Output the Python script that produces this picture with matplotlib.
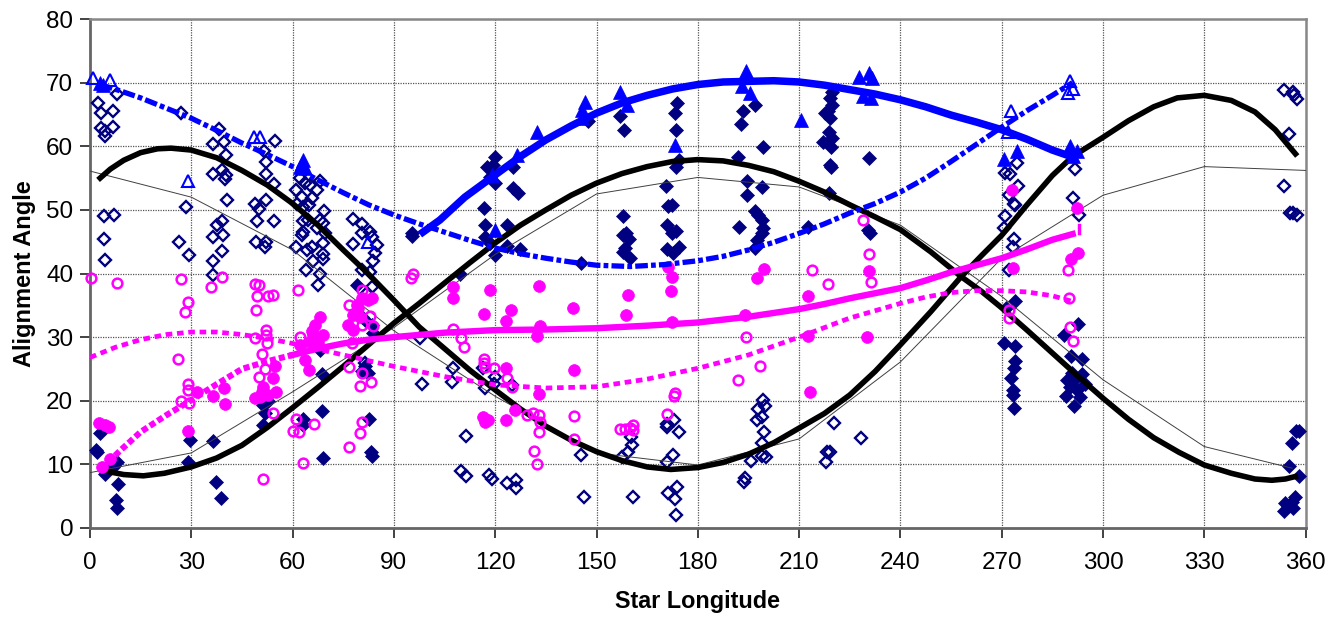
#!/usr/bin/env python
# coding: utf-8
import matplotlib
matplotlib.use('Agg')
import matplotlib.pyplot as plt
import numpy as np

plt.rcParams['font.family'] = ['Liberation Sans', 'DejaVu Sans']

# trend curves as (longitude, angle)
black_a = [(3, 55), (6, 56.4), (10, 57.8), (15, 59), (20, 59.6), (24, 59.7), (30, 59.4), (37.5, 58.2), (45, 56.2),
           (52.5, 53.9), (60, 51), (67.5, 47.6), (75, 43.7), (82.5, 39.9), (90, 35.8), (97.5, 31.6), (105, 28.2),
           (112.5, 24.8), (120, 21.7), (127.5, 18.7), (135, 16), (142.5, 13.8), (150, 12), (157.5, 10.6), (165, 9.6),
           (172, 9.2), (180, 9.5), (187.5, 10.3), (195, 11.6), (202.5, 13.4), (210, 15.7), (217.5, 18), (225, 20.9),
           (232.5, 24.6), (240, 28.8), (249, 34), (258, 39.5), (264, 42.8), (270, 46), (277.5, 50.8), (285, 55.4),
           (291, 58.4), (300, 61.4), (307.5, 64), (315, 66.2), (322, 67.6), (330, 68), (338, 67.2), (345, 65.4),
           (351, 62.6), (357, 58.8)]
black_b = [(4.4, 9), (7, 8.7), (10, 8.4), (15.8, 8.2), (22, 8.6), (30, 9.6), (37.5, 11), (45, 13), (52.5, 15.8), (60, 18.9),
           (67.5, 22.1), (75, 25.4), (82.5, 28.8), (90, 32.2), (97.5, 35.3), (105, 38.5), (112.5, 41.7), (120, 44.8),
           (127.5, 47.6), (135, 50), (142.5, 52.3), (150, 54.2), (157.5, 55.7), (165, 56.8), (172.5, 57.6), (180, 57.9),
           (187.5, 57.7), (195, 57), (202.5, 56), (210, 54.5), (217.5, 52.8), (225, 50.8), (232.5, 48.9), (240, 46.9),
           (249, 43.4), (258, 39.5), (264, 37.2), (270, 34.6), (277.5, 31.1), (285, 27.5), (292.5, 23.9), (300, 20.4),
           (307.5, 17.1), (315, 14.2), (322.5, 11.9), (330, 9.9), (338, 8.6), (345, 7.7), (350, 7.5), (354, 7.7), (357, 8.1)]
thin_a = [(0, 56.1), (30, 52), (60, 43.7), (90, 31), (120, 20.7), (150, 11.8), (180, 9.9), (210, 14), (240, 26.1),
          (270, 42.4), (300, 52.3), (330, 56.8), (360, 56.2)]
thin_b = [(0, 8.7), (30, 11.8), (60, 21.4), (90, 31.5), (120, 43), (150, 52.5), (180, 55.1), (210, 53.6), (240, 47.6),
          (270, 36.4), (300, 23.3), (330, 12.8), (356, 9.4)]
blue_solid = [(98.6, 46.5), (103.6, 48.4), (111, 52), (120, 55.5), (127.5, 58.4), (135, 61), (142.5, 63.2), (150, 65.2),
              (157.5, 66.8), (165, 68), (172.5, 69), (180, 69.7), (187.5, 70.1), (195, 70.2), (202.5, 70.3), (210, 70.1),
              (217.5, 69.6), (225, 68.9), (232.5, 68.2), (240, 67.3), (247.5, 66.2), (255, 64.9), (262.5, 63.8),
              (270, 62.6), (277.5, 61.1), (285, 59.4), (291, 58.3)]
blue_dash = [(3, 69.7), (9, 68.7), (15, 67.6), (22.5, 66), (30, 64.4), (37.5, 62.5), (45, 60.5), (52.5, 58.7), (60, 56.8),
             (67.5, 54.7), (75, 52.7), (82.5, 50.8), (90, 49.2), (97.5, 47.8), (105, 46.5), (112.5, 45.2), (120, 44),
             (127.5, 43.1), (135, 42.4), (142.5, 41.8), (150, 41.3), (160, 41.1), (170, 41.4), (180, 42), (187.5, 42.7),
             (195, 43.7), (202.5, 44.9), (210, 46.3), (217.5, 47.8), (225, 49.5), (232.5, 51), (240, 52.8), (247.5, 55),
             (255, 57.6), (262.5, 60.3), (270, 63), (277.5, 65.6), (285, 68), (291, 70)]
pink_left = [(3.5, 9.4), (9, 12.2), (15, 15.1), (22.5, 17.7), (30, 20.1), (37.5, 22.6), (45, 25), (52.5, 26.2), (60, 27.2)]
pink_solid = [(60, 27.2), (67.5, 28.2), (75, 29), (82.5, 29.6), (90, 30), (105, 30.7), (120, 31.1), (135, 31.2), (150, 31.4),
              (165, 31.8), (180, 32.3), (195, 33.2), (210, 34.4), (217.5, 35.2), (225, 36.1), (232.5, 36.9), (240, 37.7),
              (247.5, 38.9), (255, 40.2), (262.5, 41.3), (270, 42.4), (277.5, 43.8), (285, 45.3), (291, 46.2)]
pink_tail = [(293, 46.3), (293, 47.7)]
pink_dash = [(0, 26.8), (7.5, 28.4), (15, 29.6), (22.5, 30.4), (30, 30.8), (37.5, 30.8), (45, 30.4), (52.5, 29.8), (60, 29),
             (75, 27.2), (90, 25.4), (105, 23.8), (120, 22.5), (135, 22), (150, 22.2), (165, 23.4), (180, 25.1), (195, 27.2),
             (210, 30), (225, 33), (240, 35.3), (247.5, 36.3), (255, 37), (262.5, 37.3), (270, 37.3), (277.5, 37.1),
             (285, 36.5), (291, 35.6)]

# scatter points
open_diamonds = [(2.5, 66.8), (3.2, 65.3), (6.9, 65.6), (3.2, 62.8), (6.9, 63), (4.4, 62.4), (4.4, 61.6), (7.9, 68.2),
                 (4.1, 49), (7.1, 49.2), (4.2, 45.4), (4.4, 42.1), (26.9, 65.2), (28.4, 50.5), (26.5, 45), (29.3, 42.9),
                 (38.3, 62.7), (36.3, 60.4), (39.8, 60.6), (40.2, 58.6), (39, 56.3), (36.3, 55.7), (40.2, 55.5),
                 (40, 54.9), (40.7, 51.5), (37.5, 47.6), (39, 48.3), (36.5, 45.7), (39.5, 46), (39, 43.6), (36.5, 42),
                 (36.5, 39.7), (54.8, 60.8), (51.5, 59.3), (52, 57.5), (52, 55.6), (54.5, 54.1), (52, 51.5), (49, 51),
                 (50, 50.2), (49.4, 48.3), (54.5, 48.3), (49.2, 44.9), (52, 44.9), (51.8, 44.2), (61, 53.1), (62.2, 55),
                 (63.7, 54.2), (65.2, 53.9), (67.1, 53.1), (68.1, 54.5), (62.7, 52.1), (65.8, 51.8), (61.4, 51),
                 (63.2, 50.5), (65, 50.8), (69.4, 49.9), (64.7, 48.4), (68.1, 48.4), (69.1, 47.9), (63.2, 48.2),
                 (67.1, 47.1), (69.6, 46.3), (63.2, 46.6), (62.7, 46.1), (69.1, 44.8), (61, 44.1), (65.6, 44.2),
                 (64.4, 43.7), (69.1, 43.1), (69.1, 42.3), (65.9, 41.9), (63.9, 40.5), (68.1, 40), (67.6, 38.2),
                 (78, 48.6), (80.5, 47.8), (80.5, 46.4), (82.9, 46.6), (83.4, 45.8), (84.9, 44.5), (78, 44.7),
                 (84.4, 43.2), (83.7, 42), (80.5, 40.6), (82.9, 40.2), (83.4, 37.8), (81.9, 36.9), (81.4, 25.9),
                 (97.7, 29.8), (98.4, 22.6), (107.6, 25.2), (107.3, 23), (111.4, 14.4), (109.9, 9), (111.4, 8.1),
                 (116.5, 25.1), (116.9, 22), (120, 23.8), (119.5, 22.6), (118.2, 8.4), (119.1, 7.7), (123.4, 7.1),
                 (126.2, 7.5), (126.2, 6.3), (124.9, 22.5), (146.3, 4.8), (145.4, 11.5), (160.9, 4.8), (157.5, 11.2),
                 (159.2, 12), (160.4, 13), (160.1, 14.3), (170.8, 16.4), (171, 15.9), (173, 17), (174.5, 15.1),
                 (170.8, 10.4), (172.8, 11.4), (173.8, 6.5), (171.3, 5.5), (173.3, 4.6), (173.6, 2), (199.2, 20.1),
                 (199.9, 19.1), (197.9, 18.7), (198.9, 17.4), (197.4, 16.9), (199.7, 15.1), (198.9, 13.3), (195.8, 10.5),
                 (198.9, 11.3), (200.2, 11.2), (194, 7.9), (193.7, 7.3), (220.4, 16.5), (228.3, 14.2), (218.2, 11.9),
                 (219.2, 11.9), (217.9, 10.3), (353.6, 68.8), (356.4, 68.5), (356.7, 68), (357.4, 67.5), (355, 62),
                 (353.6, 53.8), (355.4, 49.5), (356.4, 49.5), (357.4, 49.2), (274.4, 57.3), (270.9, 55.8), (272.6, 55.7),
                 (274.9, 53.8), (272.3, 52.3), (273.7, 51), (274, 50.7), (271, 49), (270.7, 47.1), (273.6, 45.4),
                 (273.4, 44.2), (272.2, 40.6), (291.7, 56.4), (291, 51.9), (293, 49.2)]
filled_diamonds = [(2.9, 14.9), (1.9, 12.3), (2.2, 11.9), (7.9, 10.3), (6.9, 9.6), (4.4, 8.5), (8.4, 6.9), (7.7, 4.4),
                   (8.1, 3.2), (29.1, 10.4), (29.6, 13.8), (37.3, 7.2), (36.5, 13.7), (38.8, 4.7), (51.3, 19.3),
                   (51.8, 18), (51.3, 16.2), (52.8, 19.9), (63.2, 17.2), (63.2, 16.2), (68.6, 24.2), (68.6, 18.4),
                   (68.9, 11), (68.1, 28), (80.5, 24.6), (82.4, 24.4), (82.7, 17.1), (83.1, 12), (83.6, 11.3),
                   (81.4, 25.4), (79, 38.2), (83.4, 31.9), (80.5, 33.2), (81.4, 32.7), (83.9, 30.6), (95.3, 45.9),
                   (95.3, 46.3), (119.9, 58.3), (117.5, 56.8), (119.4, 57.1), (118.5, 55.2), (119.9, 54.2), (125.4, 56.8),
                   (125.2, 53.4), (126.9, 52.7), (116.7, 50.3), (116.9, 47.6), (123.4, 47.6), (116.9, 45.8), (118.5, 44.8),
                   (123.4, 44.3), (127.2, 43.9), (119.8, 42.9), (109.6, 39.9), (147.6, 63.9), (157, 64.8), (158.1, 62.6),
                   (157.7, 49.1), (145.4, 41.7), (157.9, 46.1), (158.6, 46.4), (159.6, 45.5), (157.7, 43.4), (158.4, 44),
                   (160, 42.4), (173.9, 66.8), (173.2, 65.2), (173.4, 62.6), (173.5, 56.8), (174.5, 57.8), (170.5, 53.7),
                   (171.1, 50.6), (172.3, 50.8), (171, 47.6), (172.3, 46.3), (173.4, 46.7), (170.8, 43.8), (174.5, 44.2),
                   (172.8, 43.2), (193.5, 65.6), (196.9, 66.5), (192.8, 63.5), (199.2, 59.9), (192, 58.3), (194.5, 54.6),
                   (198.9, 53.6), (194.7, 52.4), (192.2, 47.3), (196.9, 49.9), (197.9, 49.2), (198.9, 48.4), (199.4, 47.1),
                   (198.9, 46.3), (197.4, 45.3), (196.9, 44), (219.6, 68.6), (219.2, 67.6), (219.6, 66.5), (218.7, 65.5),
                   (217.7, 65.3), (219.2, 64.4), (218.9, 62.3), (219.6, 61.3), (217.2, 60.7), (219.4, 59.9), (219.2, 57.1),
                   (219.4, 56.8), (230.8, 58.1), (218.9, 52.7), (212.7, 47.3), (230.5, 46.9), (231, 46.3), (270.8, 29),
                   (273.9, 28.6), (273.9, 35.7), (271.4, 34.5), (273.9, 26.3), (273.7, 25.1), (272.9, 23.5), (273.2, 21.7),
                   (273.4, 20.9), (273.7, 18.8), (292.7, 32.1), (288.5, 30.3), (290.5, 27), (293.7, 26.5), (293.7, 24.2),
                   (290.7, 24.3), (289.4, 23.3), (291.3, 23.3), (294.7, 22.7), (290.2, 22.2), (292.2, 21.7), (293.2, 20.6),
                   (289, 20.8), (291.5, 19.1), (357.1, 15.3), (358.1, 15.3), (355.9, 13.3), (355.2, 9.8), (358, 8.2),
                   (357, 4.8), (353.9, 4), (355.9, 4.1), (356.4, 3.1), (353.6, 2.7), (354.9, 3.4)]
open_triangles = [(1, 70.7), (5.9, 70.4), (29.1, 54.6), (48.6, 61.5), (50.3, 61.4), (82.4, 45), (272.9, 65.6),
                  (290.2, 70.3), (291.2, 69), (289.5, 68.3), (271.9, 62.3)]
filled_triangles = [(3, 69.9), (3.9, 69.7), (62.7, 57.3), (63, 57.9), (62.2, 56.8), (63.7, 56.6), (119, 55.5),
                    (119.8, 46.9), (126.4, 58.7), (132.3, 62.3), (146.6, 66.9), (145.6, 65.7), (145.6, 64.4), (157, 68.6),
                    (159, 66.5), (173.3, 60.2), (194.3, 71.9), (193, 69.4), (195.5, 68.4), (210.5, 64.2), (227.8, 70.9),
                    (230.8, 71.5), (231.5, 70.7), (229, 67.9), (231.3, 67.6), (270.8, 58), (274.4, 59.2), (290.2, 60),
                    (292.2, 59.2), (291.2, 58.4)]
open_circles = [(0.3, 39.3), (7.9, 38.5), (26.9, 39.2), (29.1, 35.5), (28.2, 34), (35.8, 37.8), (39, 39.4), (49, 38.3),
                (50, 38.2), (49.4, 36.5), (52.8, 36.4), (54.1, 36.6), (49.2, 34.3), (61.5, 37.4), (95.8, 40), (95, 39.3),
                (26.2, 26.6), (29.1, 22.7), (29.1, 21.7), (26.9, 20), (29.4, 19.6), (52.1, 31.1), (52.1, 30.3), (49, 29.8),
                (52.3, 29), (51, 27.4), (51.8, 25), (50, 23.8), (54.3, 18), (51.3, 7.7), (62.2, 30), (60.9, 17.1),
                (60.2, 15.3), (61.9, 15.1), (66.3, 16.3), (63.2, 10.2), (76.8, 35), (77.5, 29), (76.8, 25.3), (80.5, 31.9),
                (82.9, 33.3), (80.5, 37.4), (83.7, 31.7), (80.5, 24.4), (80, 22.3), (83.1, 23), (76.8, 12.8), (80, 14.9),
                (80.5, 16.7), (116.8, 26.6), (116.8, 25.9), (117, 25.3), (119.7, 25.1), (123.4, 23.5), (124.9, 22.1),
                (110, 29.8), (110.9, 28.4), (107.4, 31.2), (129.3, 17.8), (131.3, 18), (133, 17.8), (133.3, 16.6),
                (133, 15.1), (131.6, 12.1), (132.5, 10.1), (143.3, 17.6), (143.3, 14), (157, 15.5), (158.4, 15.5),
                (160.7, 16.2), (159.9, 15.7), (160.9, 15.4), (170.8, 17.9), (173.2, 21.2), (173, 20.8), (191.8, 23.3),
                (194.3, 30), (198.4, 25.5), (213.7, 40.5), (218.5, 38.3), (229, 48.4), (230.8, 43), (231.3, 38.6),
                (272.1, 34.3), (272.3, 33), (290, 36.1), (290.2, 31.6), (291, 29.4), (289.5, 40.6)]
filled_circles = [(2.8, 16.5), (4.4, 16.2), (5.7, 15.8), (5.9, 10.8), (3.5, 9.6), (29.1, 15.3), (36.5, 20.8), (39.8, 22),
                  (40, 19.5), (31.6, 21.3), (48.9, 20.4), (51.3, 22.2), (51.3, 20.9), (52.8, 20.9), (55.1, 21.4),
                  (54.3, 23.5), (54.8, 25.4), (50.3, 20.6), (50.8, 21.4), (68.1, 33.2), (66.6, 31.9), (65.6, 30.9),
                  (69.1, 30.3), (65.2, 29.3), (67.6, 29), (63.7, 26.4), (64.9, 24.9), (62.2, 28.8), (66.1, 30.3),
                  (66.6, 29.6), (82.4, 35.8), (80.5, 36.1), (79.5, 34.5), (78, 33.5), (76.5, 31.9), (79, 35.1), (80, 33.2),
                  (83.4, 36.1), (78, 31.1), (107.6, 37.9), (107.6, 36.1), (118.5, 37.4), (133, 38.1), (116.8, 33.6),
                  (124.6, 34.3), (123.1, 32.6), (143.1, 34.5), (132.5, 30.1), (133.3, 31.7), (143.4, 24.8), (159.2, 36.6),
                  (158.6, 33.5), (172, 37.3), (172.5, 32.3), (123.1, 25.1), (133, 21), (116.5, 17.5), (116.9, 16.7),
                  (117.8, 17), (123.3, 17), (125.9, 18.6), (171.3, 41.1), (172.4, 39.5), (199.6, 40.7), (197.5, 39.3),
                  (230.8, 40.4), (230, 30), (213.2, 21.3), (212.7, 30.1), (194, 33.5), (212.7, 36.5), (273, 53.2),
                  (292.2, 50.3), (292.5, 43.3), (290.5, 42.3), (273.3, 40.9)]

x_ticks = list(range(0, 361, 30))
y_ticks = list(range(0, 81, 10))


def xy(points):
    return np.array(points).T


navy = '#000080'
blue = '#0000ff'
pink = '#ff00ff'

fig = plt.figure(figsize=(13.38, 6.17), dpi=100)
ax = fig.add_axes([90 / 1338, 1 - 528 / 617, 1215.6 / 1338, 509 / 617])

# Scatter series first, trends go on top
ax.plot(*xy(open_diamonds), ls='none', marker='D', ms=6.4, mfc='none', mec=navy, mew=1.7, zorder=3, clip_on=False)
ax.plot(*xy(filled_diamonds), ls='none', marker='D', ms=6.8, mfc=navy, mec=navy, mew=0.5, zorder=3, clip_on=False)
ax.plot(*xy(thin_a), color='#404040', lw=0.7, zorder=4)
ax.plot(*xy(thin_b), color='#404040', lw=0.7, zorder=4)
ax.plot(*xy(black_a), color='k', lw=4, solid_joinstyle='round', zorder=5)
ax.plot(*xy(black_b), color='k', lw=4, solid_joinstyle='round', zorder=5)
ax.plot(*xy(open_circles), ls='none', marker='o', ms=7, mfc='none', mec=pink, mew=1.8, zorder=6, clip_on=False)
ax.plot(*xy(filled_circles), ls='none', marker='o', ms=8.5, mfc=pink, mec=pink, mew=0.5, zorder=6, clip_on=False)
ax.plot(*xy(pink_left), color=pink, lw=4.4, dashes=(1, 0.5), zorder=7)
ax.plot(*xy(pink_solid), color=pink, lw=4.6, zorder=7)
ax.plot(*xy(pink_tail), color=pink, lw=2.5, zorder=7)
ax.plot(*xy(pink_dash), color=pink, lw=3.4, dashes=(1.4, 1), zorder=7)
ax.plot(*xy(open_triangles), ls='none', marker='^', ms=9, mfc='none', mec=blue, mew=1.5, zorder=8, clip_on=False)
ax.plot(*xy(filled_triangles), ls='none', marker='^', ms=10, mfc=blue, mec=blue, mew=0.5, zorder=8, clip_on=False)
ax.plot(*xy(blue_solid), color=blue, lw=5.4, solid_joinstyle='round', zorder=9)
ax.plot(*xy(blue_dash), color=blue, lw=3.8, dashes=(2.4, 0.6, 0.9, 0.6), zorder=9)

ax.set_xlim(0, 360)
ax.set_ylim(0, 80)
ax.set_xticks(x_ticks)
ax.set_yticks(y_ticks)
ax.grid(True, color='#555555', lw=0.9, ls=(0, (1, 1)))
ax.set_axisbelow(True)
ax.tick_params(axis='both', labelsize=17.5, length=7, width=1.2, color='#222222', pad=5)
ax.tick_params(axis='x', pad=10)
ax.set_xlabel('Star Longitude', fontsize=16.8, fontweight='bold', labelpad=12)
ax.set_ylabel('Alignment Angle', fontsize=17, fontweight='bold', labelpad=7)

for side in ['top', 'right']:
    ax.spines[side].set_color('#888888')
    ax.spines[side].set_linewidth(1.8)
for side in ['left', 'bottom']:
    ax.spines[side].set_color('#666666')
    ax.spines[side].set_linewidth(2)

plt.savefig('out.png', dpi=100)
